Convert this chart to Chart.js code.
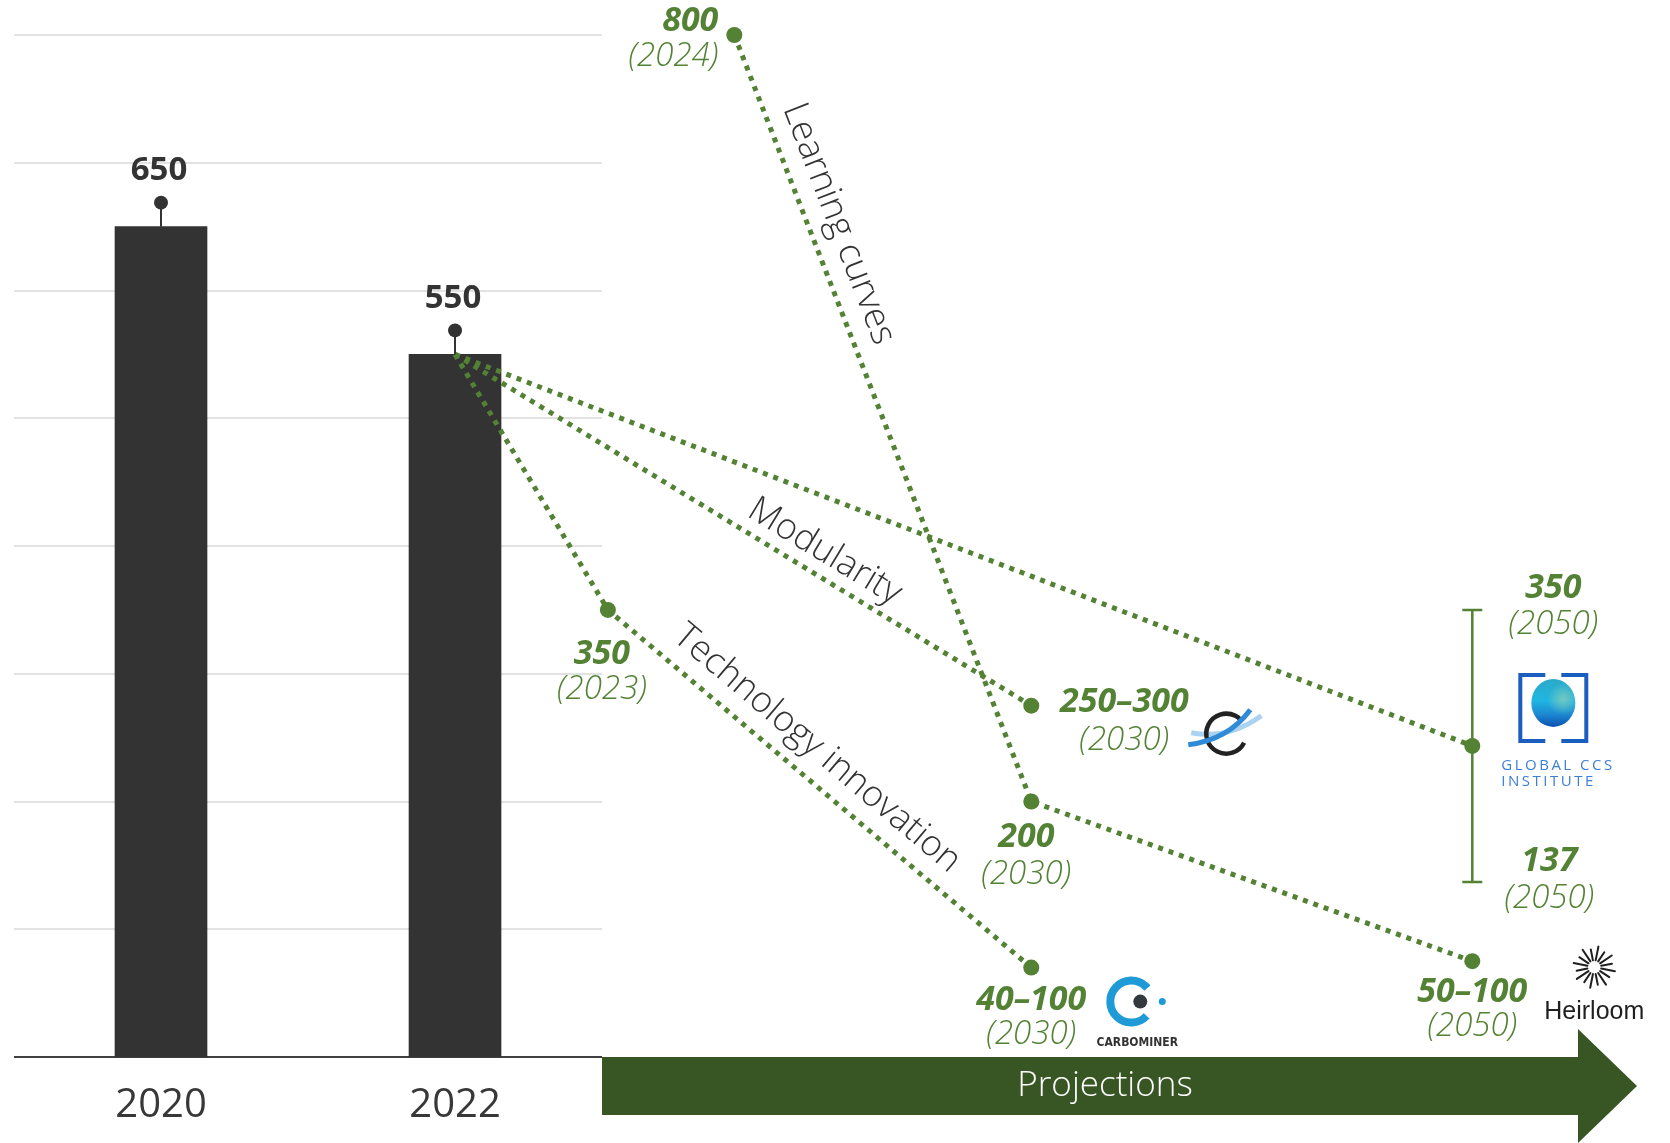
<!DOCTYPE html>
<html>
<head>
<meta charset="utf-8">
<title>Direct air capture cost pathways</title>
<script src="https://cdn.jsdelivr.net/npm/chart.js@4.4.1/dist/chart.umd.min.js"></script>
<style>
  html, body { margin: 0; padding: 0; background: #ffffff; }
  #wrap { width: 1670px; height: 1143px; position: relative; }
</style>
</head>
<body>
<div id="wrap"><canvas id="chart"></canvas></div>
<script>
// ---- Data: cost of direct air capture, USD per tonne of CO2 ----
const barCategories = ['2020', '2022'];
const barValues = [650, 550];

// Projected pathways: year of each point, low and high estimate
const techYears = [2022, 2023, 2030];
const techLow   = [550, 350, 40];
const techHigh  = [550, 350, 100];

const modularYears = [2022, 2030];
const modularLow   = [550, 250];
const modularHigh  = [550, 300];

const ccsYears = [2022, 2050];
const ccsLow   = [550, 137];
const ccsHigh  = [550, 350];

const learningYears = [2024, 2030, 2050];
const learningLow   = [800, 200, 50];
const learningHigh  = [800, 200, 100];

const pathwayNames = ['Technology innovation', 'Modularity', null, 'Learning curves'];
const yTickValues = [0, 100, 200, 300, 400, 500, 600, 700, 800];
const arrowText = 'Projections';

// ---- Schematic timeline: one slot per historical year, projections spread to the right ----
const timelineSlot = { 2020: 0, 2022: 1, 2023: 1.52, 2024: 1.95, 2030: 2.96, 2050: 4.46 };

const GREEN = '#548235';
const DARK_GREEN = '#375623';
const INK = '#333333';
const FONT = '"Open Sans", "Noto Sans", sans-serif';
const VALUE_FONT = 'italic 700 34px ' + FONT;
const YEAR_FONT = 'italic 300 33px ' + FONT;

const fmtRange = (lo, hi) => lo === hi ? String(lo) : lo + '\u2013' + hi;
const pathPoints = (years, lo, hi) =>
  years.map((yr, i) => ({ x: timelineSlot[yr], y: (lo[i] + hi[i]) / 2 }));

// label placement for each point of each pathway (null = no label)
const labelStyle = [
  [null, { dx: -6, dy1: 44, dy2: 80, align: 'center' }, { dx: 0, dy1: 33, dy2: 67, align: 'center' }],
  [null, { dx: 93, dy1: -3, dy2: 35, align: 'center' }],
  [null, null],
  [{ dx: -16, dy1: -14, dy2: 22, align: 'right' }, { dx: -5, dy1: 36, dy2: 73, align: 'center' },
   { dx: 0, dy1: 31, dy2: 65, align: 'center' }]
];
// where each pathway name sits along its line: segment, fraction, perpendicular offset
const nameStyle = [
  { from: 1, to: 2, t: 0.45, off: 29 },
  { from: 0, to: 1, t: 0.62, off: 24 },
  null,
  { from: 0, to: 1, t: 0.26, off: 29 }
];

const pathways = [
  { years: techYears, lo: techLow, hi: techHigh },
  { years: modularYears, lo: modularLow, hi: modularHigh },
  { years: ccsYears, lo: ccsLow, hi: ccsHigh },
  { years: learningYears, lo: learningLow, hi: learningHigh }
];

const lineDatasets = pathways.map((p, k) => ({
  type: 'line',
  data: pathPoints(p.years, p.lo, p.hi),
  borderColor: GREEN,
  borderWidth: 5,
  borderDash: [5, 6],
  borderCapStyle: 'butt',
  pointRadius: p.years.map(yr => (yr === 2022 ? 0 : 8)),
  pointBackgroundColor: GREEN,
  pointBorderWidth: 0,
  fill: false,
  tension: 0,
  clip: false,
  order: 1
}));

// ---- Drawing helpers ----
function twoLineLabel(ctx, x, y1, y2, top, bottom, align) {
  ctx.save();
  ctx.fillStyle = GREEN;
  ctx.textAlign = align;
  ctx.textBaseline = 'middle';
  ctx.font = VALUE_FONT;
  ctx.fillText(top, x, y1);
  ctx.font = YEAR_FONT;
  ctx.fillText(bottom, x, y2);
  ctx.restore();
}

function drawCarbonCaptureLogo(ctx, cx, cy) {
  ctx.save();
  ctx.lineCap = 'butt';
  ctx.lineWidth = 5;
  ctx.strokeStyle = '#a9d3f0';
  ctx.beginPath();
  ctx.moveTo(cx - 35, cy - 1);
  ctx.quadraticCurveTo(cx + 2, cy + 6, cx + 35, cy - 18);
  ctx.stroke();
  ctx.strokeStyle = '#222222';
  ctx.lineWidth = 4.5;
  ctx.beginPath();
  ctx.arc(cx, cy, 20, 27 * Math.PI / 180, 313 * Math.PI / 180);
  ctx.stroke();
  ctx.strokeStyle = '#2f8bd8';
  ctx.lineWidth = 5;
  ctx.beginPath();
  ctx.moveTo(cx - 38, cy + 11);
  ctx.quadraticCurveTo(cx + 2, cy + 6, cx + 24, cy - 24);
  ctx.stroke();
  ctx.restore();
}

function drawCcsLogo(ctx, cx, cy) {
  ctx.save();
  ctx.strokeStyle = '#1a5fc0';
  ctx.lineWidth = 4;
  ctx.lineCap = 'butt';
  ctx.beginPath();
  ctx.moveTo(cx - 8, cy - 33); ctx.lineTo(cx - 33, cy - 33); ctx.lineTo(cx - 33, cy + 33); ctx.lineTo(cx - 8, cy + 33);
  ctx.moveTo(cx + 8, cy - 33); ctx.lineTo(cx + 33, cy - 33); ctx.lineTo(cx + 33, cy + 33); ctx.lineTo(cx + 8, cy + 33);
  ctx.stroke();
  const sx = cx, sy = cy - 5;
  const g = ctx.createLinearGradient(sx, sy - 24, sx, sy + 24);
  g.addColorStop(0, '#2ba9c8');
  g.addColorStop(0.45, '#1fb6e2');
  g.addColorStop(0.75, '#1c86d0');
  g.addColorStop(1, '#0b4fb0');
  ctx.fillStyle = g;
  ctx.beginPath();
  ctx.ellipse(sx, sy, 22, 24, 0, 0, Math.PI * 2);
  ctx.fill();
  const h = ctx.createRadialGradient(sx + 10, sy - 4, 1, sx + 10, sy - 4, 16);
  h.addColorStop(0, 'rgba(120,200,190,0.9)');
  h.addColorStop(1, 'rgba(120,200,190,0)');
  ctx.fillStyle = h;
  ctx.beginPath();
  ctx.ellipse(sx, sy, 22, 24, 0, 0, Math.PI * 2);
  ctx.fill();
  ctx.fillStyle = '#3c7fd6';
  ctx.font = '500 15px ' + FONT;
  ctx.letterSpacing = '2.5px';
  ctx.textAlign = 'left';
  ctx.textBaseline = 'middle';
  ctx.fillText('GLOBAL CCS', cx - 52, cy + 58);
  ctx.fillText('INSTITUTE', cx - 52, cy + 74);
  ctx.restore();
}

function drawCarbominerLogo(ctx, cx, cy) {
  ctx.save();
  ctx.strokeStyle = '#1e9ad6';
  ctx.lineWidth = 8;
  ctx.beginPath();
  ctx.arc(cx, cy, 21, 43 * Math.PI / 180, 320 * Math.PI / 180);
  ctx.stroke();
  ctx.fillStyle = '#34393f';
  ctx.beginPath(); ctx.arc(cx + 9, cy, 7, 0, Math.PI * 2); ctx.fill();
  ctx.fillStyle = '#1e9ad6';
  ctx.beginPath(); ctx.arc(cx + 31, cy, 3.5, 0, Math.PI * 2); ctx.fill();
  ctx.fillStyle = '#333333';
  ctx.font = 'bold 12px "Liberation Sans Narrow", "DejaVu Sans Condensed", sans-serif';
  ctx.textAlign = 'center';
  ctx.textBaseline = 'middle';
  ctx.fillText('CARBOMINER', cx + 6, cy + 41);
  ctx.restore();
}

function drawHeirloomLogo(ctx, cx, cy) {
  ctx.save();
  ctx.strokeStyle = '#1f1f1f';
  ctx.lineWidth = 2;
  ctx.lineCap = 'round';
  for (let i = 0; i < 16; i++) {
    const a = (i + 0.5) * Math.PI * 2 / 16;
    const r2 = i % 2 ? 18 : 21;
    ctx.beginPath();
    ctx.moveTo(cx + Math.cos(a) * 7, cy + Math.sin(a) * 7);
    ctx.lineTo(cx + Math.cos(a) * r2, cy + Math.sin(a) * r2);
    ctx.stroke();
  }
  ctx.fillStyle = '#1f1f1f';
  ctx.font = '25px "Liberation Sans", Arial, sans-serif';
  ctx.textAlign = 'center';
  ctx.textBaseline = 'middle';
  ctx.fillText('Heirloom', cx, cy + 45);
  ctx.restore();
}

const decorPlugin = {
  id: 'decor',
  beforeDatasetsDraw(chart) {
    const { ctx, chartArea, scales: { x, y } } = chart;
    const splitX = x.getPixelForValue(1.5);
    ctx.save();
    // horizontal grid over the historical section
    ctx.lineWidth = 2;
    ctx.strokeStyle = '#e2e2e2';
    yTickValues.forEach(v => {
      if (v === 0) return;
      const py = Math.round(y.getPixelForValue(v));
      ctx.beginPath(); ctx.moveTo(chartArea.left, py); ctx.lineTo(splitX, py); ctx.stroke();
    });
    const base = y.getPixelForValue(0);
    ctx.strokeStyle = '#404040';
    ctx.beginPath(); ctx.moveTo(chartArea.left, base); ctx.lineTo(splitX, base); ctx.stroke();

    // projections arrow
    const bodyH = 58, headHalf = 57, tipX = chartArea.right - 7, headLen = 59;
    const midY = base + bodyH / 2;
    ctx.fillStyle = DARK_GREEN;
    ctx.beginPath();
    ctx.moveTo(splitX, base);
    ctx.lineTo(tipX - headLen, base);
    ctx.lineTo(tipX - headLen, midY - headHalf);
    ctx.lineTo(tipX, midY);
    ctx.lineTo(tipX - headLen, midY + headHalf);
    ctx.lineTo(tipX - headLen, base + bodyH);
    ctx.lineTo(splitX, base + bodyH);
    ctx.closePath();
    ctx.fill();
    ctx.fillStyle = '#ffffff';
    ctx.font = '300 35px ' + FONT;
    ctx.textAlign = 'center';
    ctx.textBaseline = 'middle';
    ctx.fillText(arrowText, (splitX + tipX - headLen) / 2 + 15, midY);

    // range whisker for the Global CCS Institute estimate
    const ccsMeta = chart.getDatasetMeta(3);
    const last = ccsYears.length - 1;
    const px = ccsMeta.data[last].x;
    const yHi = y.getPixelForValue(ccsHigh[last]);
    const yLo = y.getPixelForValue(ccsLow[last]);
    ctx.strokeStyle = GREEN;
    ctx.lineWidth = 2.5;
    ctx.beginPath();
    ctx.moveTo(px, yHi); ctx.lineTo(px, yLo);
    ctx.moveTo(px - 10, yHi); ctx.lineTo(px + 10, yHi);
    ctx.moveTo(px - 10, yLo); ctx.lineTo(px + 10, yLo);
    ctx.stroke();
    ctx.restore();
  },
  afterDatasetsDraw(chart) {
    const { ctx } = chart;
    ctx.save();
    // bar value callouts
    const barMeta = chart.getDatasetMeta(0);
    barMeta.data.forEach((el, i) => {
      const dotY = el.y - 24;
      ctx.strokeStyle = INK;
      ctx.lineWidth = 2;
      ctx.beginPath(); ctx.moveTo(el.x, el.y); ctx.lineTo(el.x, dotY); ctx.stroke();
      ctx.fillStyle = INK;
      ctx.beginPath(); ctx.arc(el.x, dotY, 7, 0, Math.PI * 2); ctx.fill();
      ctx.font = '700 33px ' + FONT;
      ctx.textAlign = 'center';
      ctx.textBaseline = 'middle';
      ctx.fillText(String(barValues[i]), el.x - 2, dotY - 32);
    });

    // pathway names written along their lines
    nameStyle.forEach((s, k) => {
      if (!s) return;
      const pts = chart.getDatasetMeta(k + 1).data;
      const a = pts[s.from], b = pts[s.to];
      const ang = Math.atan2(b.y - a.y, b.x - a.x);
      const mx = a.x + (b.x - a.x) * s.t + Math.sin(ang) * s.off;
      const my = a.y + (b.y - a.y) * s.t - Math.cos(ang) * s.off;
      ctx.save();
      ctx.translate(mx, my);
      ctx.rotate(ang);
      ctx.fillStyle = INK;
      ctx.font = '300 36px ' + FONT;
      ctx.textAlign = 'center';
      ctx.textBaseline = 'middle';
      ctx.fillText(pathwayNames[k], 0, 0);
      ctx.restore();
    });

    // value and year labels for the projected points
    pathways.forEach((p, k) => {
      const pts = chart.getDatasetMeta(k + 1).data;
      labelStyle[k].forEach((s, j) => {
        if (!s) return;
        const el = pts[j];
        twoLineLabel(ctx, el.x + s.dx, el.y + s.dy1, el.y + s.dy2,
          fmtRange(p.lo[j], p.hi[j]), '(' + p.years[j] + ')', s.align);
      });
    });

    // Global CCS Institute range end labels and logo
    const y = chart.scales.y;
    const last = ccsYears.length - 1;
    const ccsPt = chart.getDatasetMeta(3).data[last];
    const yHi = y.getPixelForValue(ccsHigh[last]);
    const yLo = y.getPixelForValue(ccsLow[last]);
    twoLineLabel(ctx, ccsPt.x + 81, yHi - 22, yHi + 15, String(ccsHigh[last]), '(' + ccsYears[last] + ')', 'center');
    twoLineLabel(ctx, ccsPt.x + 77, yLo - 21, yLo + 17, String(ccsLow[last]), '(' + ccsYears[last] + ')', 'center');
    drawCcsLogo(ctx, ccsPt.x + 81, ccsPt.y - 38);

    // logos next to the other estimates
    const modPt = chart.getDatasetMeta(2).data[1];
    drawCarbonCaptureLogo(ctx, modPt.x + 195, modPt.y + 28);
    const techPt = chart.getDatasetMeta(1).data[2];
    drawCarbominerLogo(ctx, techPt.x + 100, techPt.y + 34);
    const learnPt = chart.getDatasetMeta(4).data[2];
    drawHeirloomLogo(ctx, learnPt.x + 122, learnPt.y + 6);
    ctx.restore();
  }
};

new Chart(document.getElementById('chart'), {
  type: 'bar',
  data: {
    datasets: [
      {
        type: 'bar',
        data: barValues.map((v, i) => ({ x: i, y: v })),
        backgroundColor: INK,
        borderWidth: 0,
        barThickness: 92,
        order: 2
      },
      ...lineDatasets
    ]
  },
  options: {
    responsive: true,
    maintainAspectRatio: false,
    animation: false,
    events: [],
    layout: { padding: { top: 35, left: 14, right: 26, bottom: 16 } },
    plugins: { legend: { display: false }, tooltip: { enabled: false } },
    scales: {
      x: {
        type: 'linear',
        min: -0.5,
        max: 5.044,
        offset: false,
        grid: { display: false, drawTicks: false, offset: false },
        border: { display: false },
        afterBuildTicks: (scale) => { scale.ticks = barCategories.map((c, i) => ({ value: i })); },
        afterFit: (scale) => { scale.height = 70; },
        ticks: {
          autoSkip: false,
          maxRotation: 0,
          padding: 25,
          color: '#383838',
          font: { family: FONT, size: 40, weight: '400' },
          callback: (v) => barCategories[v]
        }
      },
      y: {
        display: false,
        min: 0,
        max: 800,
        afterBuildTicks: (scale) => { scale.ticks = yTickValues.map(v => ({ value: v })); }
      }
    }
  },
  plugins: [decorPlugin]
});
</script>
</body>
</html>
